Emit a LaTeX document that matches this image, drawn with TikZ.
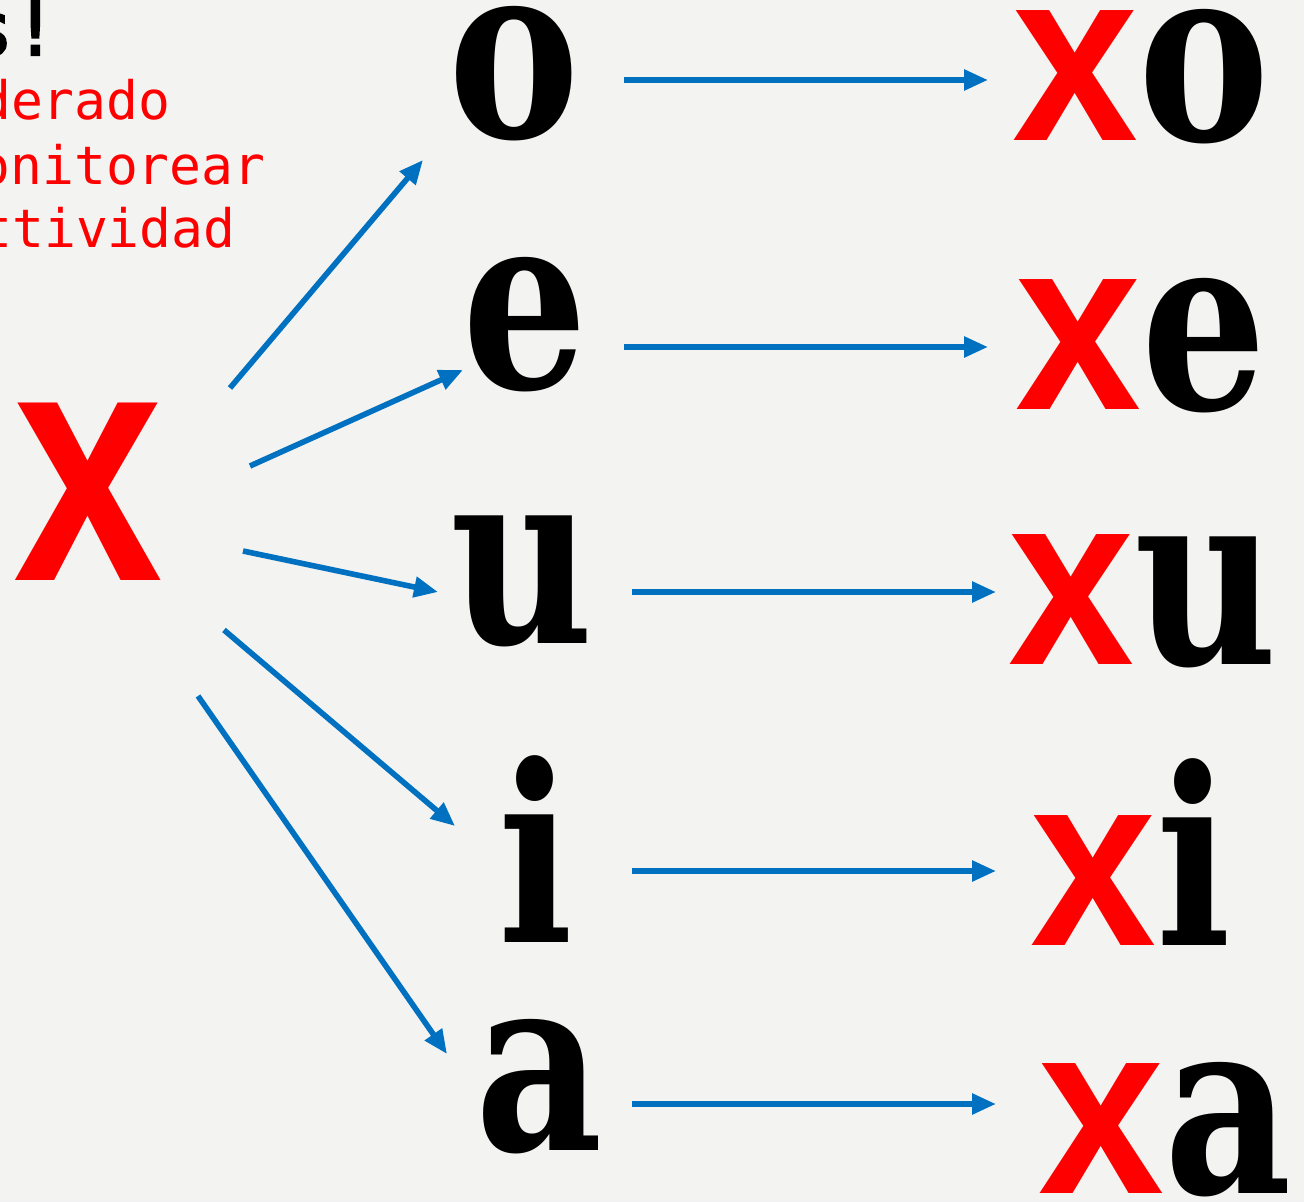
\documentclass[tikz,border=0pt]{standalone}
\usepackage{fontspec}
\usetikzlibrary{arrows.meta}
\newfontfamily\vowelfont{DejaVu Serif}
\newfontfamily\exfont{Liberation Sans}
\newfontfamily\notefont{DejaVu Sans Mono}
\newfontfamily\noteboldfont{DejaVu Sans Mono}[FakeBold=3]
\definecolor{bgpaper}{RGB}{243,243,241}
\definecolor{arrowblue}{RGB}{0,112,192}
\newcommand{\vow}[1]{{\vowelfont\bfseries\fontsize{123pt}{123pt}\selectfont\scalebox{0.8}[1]{#1}}}
\newcommand{\ex}[1]{{\color{red}\exfont\bfseries\fontsize{123pt}{123pt}\selectfont\scalebox{0.92}[1]{#1}}}
\tikzstyle{letter}=[inner sep=0pt, outer sep=0pt]
\tikzstyle{arr}=[draw=arrowblue, line width=2.8pt, -{Triangle[length=12pt,width=10pt]}]
\tikzstyle{note}=[inner sep=0pt, anchor=base east, text=red, font=\notefont\fontsize{26.5pt}{26.5pt}\selectfont]

\begin{document}
\begin{tikzpicture}[x=0.5pt,y=-0.5pt]
  \fill[bgpaper] (0,0) rectangle (1304,1202);
  \useasboundingbox (0,0) rectangle (1304,1202);
  \clip (0,0) rectangle (1304,1202);

  % cut-off note, top left
  \node[note, text=black, font=\noteboldfont\fontsize{37pt}{37pt}\selectfont] (head) at (58,55) {s!};
  \node[note] (line1) at (171,120) {derado};
  \node[note] (line2) at (266,185) {monitorear};
  \node[note] (line3) at (236,248) {ttividad};

  % the consonant
  \node[letter] (X) at (88,492) {{\color{red}\exfont\bfseries\fontsize{168pt}{168pt}\selectfont\scalebox{0.8}[1]{x}}};

  % vowels
  \node[letter] (o) at (514,74) {\vow{o}};
  \node[letter] (e) at (525,325) {\vow{e}};
  \node[letter] (u) at (522,581) {\vow{u}};
  \node[letter] (i) at (536,849) {\vow{i}};
  \node[letter] (a) at (539,1087) {\vow{a}};

  % syllables
  \node[letter] (xo) at (1141,77) {\ex{x}\vow{o}};
  \node[letter] (xe) at (1141,346) {\ex{x}\vow{e}};
  \node[letter] (xu) at (1143,601) {\ex{x}\vow{u}};
  \node[letter] (xi) at (1131,852) {\ex{x}\vow{i}};
  \node[letter] (xa) at (1165,1130) {\ex{x}\vow{a}};

  % x to each vowel
  \draw[arr] ([shift={(142,-104)}]X.center) -- ([shift={(-91,86)}]o.center);
  \draw[arr] ([shift={(162,-26)}]X.center) -- ([shift={(-62,45)}]e.center);
  \draw[arr] ([shift={(155,59)}]X.center) -- ([shift={(-84,11)}]u.center);
  \draw[arr] ([shift={(136,138)}]X.center) -- ([shift={(-81,-23)}]i.center);
  \draw[arr] ([shift={(110,204)}]X.center) -- ([shift={(-92,-33)}]a.center);

  % vowel to syllable
  \draw[arr] ([shift={(110,6)}]o.center) -- ([shift={(-153,3)}]xo.center);
  \draw[arr] ([shift={(99,22)}]e.center) -- ([shift={(-153,1)}]xe.center);
  \draw[arr] ([shift={(110,11)}]u.center) -- ([shift={(-147,-9)}]xu.center);
  \draw[arr] ([shift={(96,22)}]i.center) -- ([shift={(-135,19)}]xi.center);
  \draw[arr] ([shift={(93,17)}]a.center) -- ([shift={(-169,-26)}]xa.center);
\end{tikzpicture}
\end{document}
